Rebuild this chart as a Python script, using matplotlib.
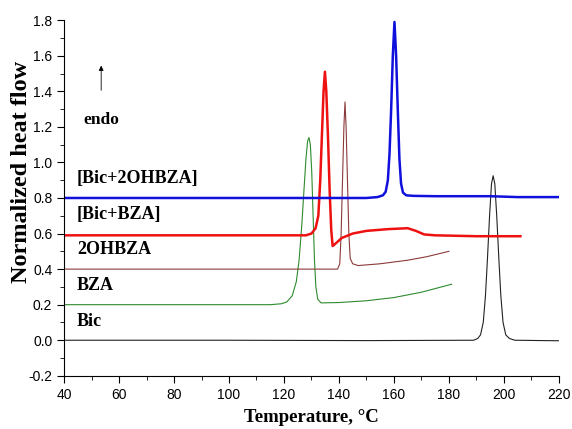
import numpy as np
import matplotlib
matplotlib.use("Agg")
import matplotlib.pyplot as plt
from matplotlib.ticker import MultipleLocator, FormatStrFormatter

# DSC curves (temperature in C, normalized heat flow)
bic_t = [40, 100, 150, 189, 190.5, 191.5, 192.5, 193.3, 194, 194.8, 195.5, 196.1, 196.7, 197.4,
         198.2, 198.9, 199.7, 200.7, 202, 204, 220]
bic_y = [0.0, 0.0, -0.002, 0.0, 0.01, 0.03, 0.1, 0.25, 0.45, 0.7, 0.88, 0.925, 0.88, 0.7,
         0.45, 0.25, 0.1, 0.03, 0.01, 0.0, -0.003]

bza_t = [40, 100, 115, 119, 121, 123, 124.5, 125.5, 126.5, 127.3, 128, 128.6, 129.1, 129.6,
         130.1, 130.6, 131.1, 131.6, 132.3, 133.5, 140, 150, 160, 170, 181]
bza_y = [0.2, 0.2, 0.2, 0.205, 0.215, 0.25, 0.33, 0.45, 0.65, 0.85, 1.02, 1.12, 1.14, 1.1,
         0.95, 0.7, 0.45, 0.3, 0.23, 0.21, 0.212, 0.222, 0.24, 0.27, 0.315]

oh_t = [40, 100, 139.5, 140.3, 140.8, 141.3, 141.8, 142.2, 142.6, 143.1, 143.6, 144.1, 145,
        147, 155, 165, 172, 180]
oh_y = [0.4, 0.4, 0.4, 0.43, 0.6, 0.9, 1.2, 1.34, 1.2, 0.9, 0.6, 0.46, 0.43,
        0.42, 0.43, 0.45, 0.47, 0.5]

bicbza_t = [40, 100, 128, 130, 131.5, 132.5, 133.2, 133.8, 134.4, 134.9, 135.4, 136, 136.6,
            137.2, 137.7, 138.5, 141, 145, 150, 158, 165, 168, 171, 175, 190, 206]
bicbza_y = [0.59, 0.59, 0.59, 0.6, 0.63, 0.7, 0.9, 1.15, 1.4, 1.51, 1.4, 1.15, 0.85,
            0.62, 0.53, 0.54, 0.575, 0.6, 0.615, 0.625, 0.63, 0.615, 0.595, 0.59, 0.585, 0.585]

bic2oh_t = [40, 100, 150, 154, 156, 157, 157.8, 158.4, 159, 159.6, 160.2, 160.8, 161.4, 162,
            162.6, 163.3, 164.5, 167, 175, 185, 195, 205, 220]
bic2oh_y = [0.8, 0.8, 0.8, 0.805, 0.815, 0.835, 0.9, 1.05, 1.3, 1.6, 1.79, 1.6, 1.3, 1.02,
            0.88, 0.83, 0.815, 0.812, 0.81, 0.81, 0.81, 0.805, 0.805]

labels = ["[Bic+2OHBZA]", "[Bic+BZA]", "2OHBZA", "BZA", "Bic"]
label_y = [0.86, 0.66, 0.46, 0.26, 0.06]

fig = plt.figure(figsize=(5.72, 4.29), dpi=100)
ax = fig.add_axes([0.112, 0.124, 0.865, 0.829])

ax.plot(bic_t, bic_y, color="#222222", lw=0.8)
ax.plot(bza_t, bza_y, color="#2e8b2e", lw=0.8)
ax.plot(oh_t, oh_y, color="#8b3a3a", lw=0.8)
ax.plot(bicbza_t, bicbza_y, color="#ee1111", lw=1.8)
ax.plot(bic2oh_t, bic2oh_y, color="#1010dd", lw=1.8)

serif = {"family": "Liberation Serif", "weight": "bold"}
for lab, yy in zip(labels, label_y):
    ax.text(44.7, yy, lab, fontdict=serif, fontsize=13, va="bottom", ha="left")

ax.text(47, 1.24, "endo", fontdict=serif, fontsize=12.5, va="center", ha="left")
ax.annotate("", xy=(53.5, 1.56), xytext=(53.5, 1.39),
            arrowprops=dict(arrowstyle="-|>", color="black", lw=0.6, mutation_scale=7))

ax.set_xlim(40, 220)
ax.set_ylim(-0.2, 1.8)
ax.xaxis.set_major_locator(MultipleLocator(20))
ax.xaxis.set_minor_locator(MultipleLocator(10))
ax.yaxis.set_major_locator(MultipleLocator(0.2))
ax.yaxis.set_minor_locator(MultipleLocator(0.1))
ax.yaxis.set_major_formatter(FormatStrFormatter("%.1f"))
ax.spines["top"].set_visible(False)
ax.spines["right"].set_visible(False)
ax.tick_params(which="major", direction="out", length=5, labelsize=10)
ax.tick_params(which="minor", direction="out", length=3)
for t in ax.get_xticklabels() + ax.get_yticklabels():
    t.set_family("Liberation Sans")

ax.set_xlabel("Temperature, °C", fontdict=serif, fontsize=13.5)
ax.set_ylabel("Normalized heat flow", fontdict=serif, fontsize=17.5)
ax.xaxis.set_label_coords(0.499, -0.118)
ax.yaxis.set_label_coords(-0.086, 0.573)
ax.xaxis.label.set_va("center")
ax.yaxis.label.set_va("center")

fig.savefig("out.png", dpi=100)
